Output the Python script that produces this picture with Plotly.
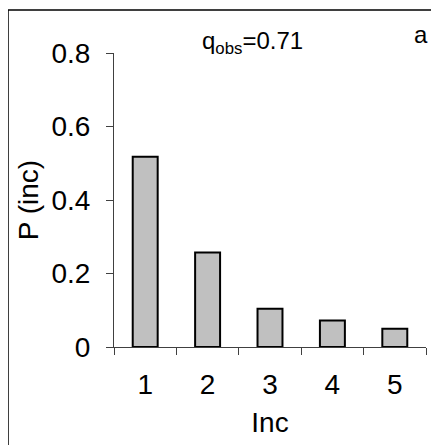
import plotly.graph_objects as go

categories = ["1", "2", "3", "4", "5"]
values = [0.518, 0.257, 0.104, 0.072, 0.05]
y_ticks = [0, 0.2, 0.4, 0.6, 0.8]
y_tick_labels = ["0", "0.2", "0.4", "0.6", "0.8"]

# page body has an 8px margin, so the figure is shifted by 8px
OFF = 8
W, H = 439 - OFF, 445 - OFF
L, R, T, B = 114 - OFF, 13, 53 - OFF, 98
pw = W - L - R
ph = H - T - B

FONT = "Liberation Sans, Arial, sans-serif"
AX = "#404040"

fig = go.Figure(go.Bar(
    x=categories, y=values,
    marker=dict(color="#c0c0c0", line=dict(color="black", width=2)),
    width=0.4,
))

fig.update_layout(
    width=W, height=H,
    margin=dict(l=L, r=R, t=T, b=B, pad=0, autoexpand=False),
    paper_bgcolor="white", plot_bgcolor="white",
    showlegend=False,
    font=dict(family=FONT, color="black", size=28),
    xaxis=dict(
        type="category", tickson="boundaries",
        showline=True, linecolor=AX, linewidth=1,
        ticks="outside", ticklen=7, tickcolor=AX,
        showgrid=False, zeroline=False,
        tickfont=dict(size=28), ticklabelstandoff=12,
        title=dict(text="Inc", font=dict(size=28), standoff=13),
    ),
    yaxis=dict(
        range=[0, 0.8], tickvals=y_ticks, ticktext=y_tick_labels,
        showline=True, linecolor=AX, linewidth=1,
        ticks="outside", ticklen=7, tickcolor=AX,
        showgrid=False, zeroline=False,
        tickfont=dict(size=28), ticklabelstandoff=10,
        title=dict(text="P (inc)", font=dict(size=28), standoff=4),
    ),
    shapes=[dict(
        type="rect", xref="paper", yref="paper",
        x0=(8 - OFF - L) / pw, x1=1.5, y0=-1.0, y1=1 + (T - (10 - OFF)) / ph,
        line=dict(color="black", width=1.5), fillcolor="rgba(0,0,0,0)",
        layer="below",
    )],
    annotations=[
        dict(text="q<sub>obs</sub>=0.71", xref="paper", yref="paper",
             x=(252 - OFF - L) / pw, y=1 + (T - (42 - OFF)) / ph,
             xanchor="center", yanchor="middle",
             showarrow=False, font=dict(size=24)),
        dict(text="a", xref="paper", yref="paper",
             x=(421 - OFF - L) / pw, y=1 + (T - (35 - OFF)) / ph,
             xanchor="center", yanchor="middle",
             showarrow=False, font=dict(size=24)),
    ],
)

fig.write_html("out.html")
